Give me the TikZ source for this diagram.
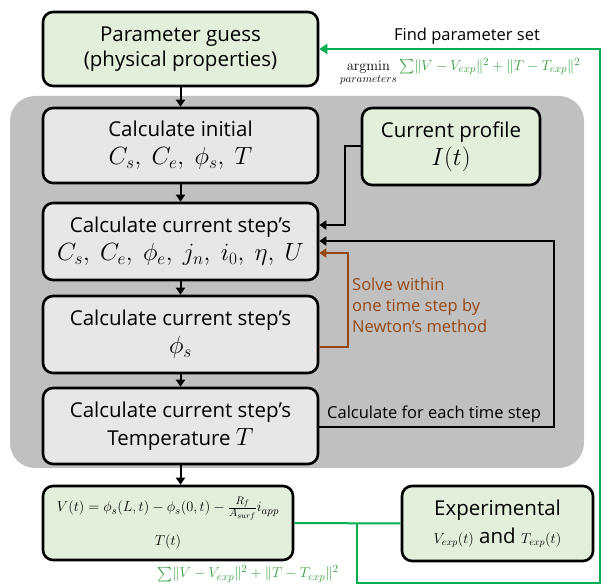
\documentclass[tikz,border=0pt]{standalone}
\usepackage{amsmath}
\usepackage[no-math]{fontspec}
\setmainfont{Open Sans}
\usetikzlibrary{arrows.meta,positioning,calc}
\definecolor{bggray}{RGB}{192,192,192}
\definecolor{boxgray}{RGB}{231,231,231}
\definecolor{boxgreen}{RGB}{226,239,218}
\definecolor{lgreen}{RGB}{0,176,80}
\definecolor{tgreen}{RGB}{50,160,60}
\definecolor{brownish}{RGB}{150,72,20}
\newcommand{\bigmath}[1]{{\fontsize{24}{24}\selectfont$#1$}}
\begin{document}
\begin{tikzpicture}[x=1pt,y=-1pt,
  box/.style={draw=black,line width=2.6pt,rounded corners=10pt,align=center,inner sep=0pt},
  graybox/.style={box,fill=boxgray,minimum width=275pt,minimum height=75pt},
  greenbox/.style={box,fill=boxgreen},
  conn/.style={line width=2pt,-{Triangle[width=9pt,length=7pt]}},
  txt/.style={font=\fontsize{20.5}{28}\selectfont},
  small/.style={font=\fontsize{16.5}{21}\selectfont}]
\useasboundingbox (0,0) rectangle (603,585);
\fill[bggray,rounded corners=25pt] (10,96) rectangle (584,468);
\node[greenbox,minimum width=275pt,minimum height=74pt,txt,font=\fontsize{20.5}{25.5}\selectfont] (pg) at (180.5,49) {Parameter guess\\(physical properties)};
\node[graybox,txt] (init) at (180.5,145.5) {Calculate initial\\\bigmath{C_s,\ C_e,\ \phi_s,\ T}};
\node[greenbox,minimum width=178pt,minimum height=77pt,txt] (cp) at (451,146.5) {Current profile\\\bigmath{I(t)}};
\node[graybox,minimum height=77pt,txt] (step) at (180.5,241.5) {Calculate current step's\\\bigmath{C_s,\ C_e,\ \phi_e,\ j_n,\ i_0,\ \eta,\ U}};
\node[graybox,minimum height=77pt,txt] (phis) at (180.5,334.5) {Calculate current step's\\\bigmath{\phi_s}};
\node[graybox,minimum height=76pt,txt] (temp) at (180.5,426) {Calculate current step's\\Temperature \bigmath{T}};
\node[greenbox,minimum width=250pt,minimum height=74pt,font=\fontsize{15.2}{34}\selectfont] (vt) at (168,523) {$V(t)=\phi_s(L,t)-\phi_s(0,t)-\frac{R_f}{A_{surf}}i_{app}$\\$T(t)$};
\node[greenbox,minimum width=191pt,minimum height=75pt,txt] (exp) at (497.5,523.5) {Experimental\\{\fontsize{14}{14}\selectfont$V_{exp}(t)$}\ and\ {\fontsize{14}{14}\selectfont$T_{exp}(t)$}};
% vertical flow
\draw[conn] (pg) -- (init);
\draw[conn] (init) -- (step);
\draw[conn] (step) -- (phis);
\draw[conn] (phis) -- (temp);
\draw[conn] (temp.south) -- (temp.south |- vt.north);
% current profile
\draw[conn] (cp.west) -| ($(step.east)+(26,-16.5)$) -- ([yshift=16.5pt]step.east);
% time loop
\draw[conn] ([yshift=-1pt]temp.east) -- ++(235,0) |- ([yshift=0.5pt]step.east);
\node[anchor=south west,small,inner sep=1pt] (loopl) at (326,424) {Calculate for each time step};
% Newton
\draw[conn,brownish] ([yshift=-12.5pt]phis.east) -- ++(29,0) |- ([yshift=-11.5pt]step.east);
\node[anchor=west,align=left,text=brownish,small,inner sep=0pt] (newt) at (352,305) {Solve within\\one time step by\\Newton's method};
% green feedback
\coordinate (gj) at ($(vt.east)!0.585!(exp.west)$);
\draw[lgreen,line width=2pt] (vt.east) -- (exp.west);
\draw[lgreen,line width=2pt,-{Triangle[width=10pt,length=8pt]}] (gj) -- (gj |- 0,583) -- (600,583) |- (pg.east);
\node[small,inner sep=0pt] (find) at (467,36) {Find parameter set};
\node[inner sep=0pt,font=\fontsize{15.6}{15.6}\selectfont,anchor=west] (argm) at (340,72) {$\mathop{\mathrm{argmin}}\limits_{parameters}{\color{tgreen}\sum\lVert V-V_{exp}\rVert^2+\lVert T-T_{exp}\rVert^2}$};
\node[inner sep=0pt,text=tgreen,font=\fontsize{15.6}{15.6}\selectfont] (bsum) at (248,574) {$\sum\lVert V-V_{exp}\rVert^2+\lVert T-T_{exp}\rVert^2$};
\end{tikzpicture}
\end{document}
